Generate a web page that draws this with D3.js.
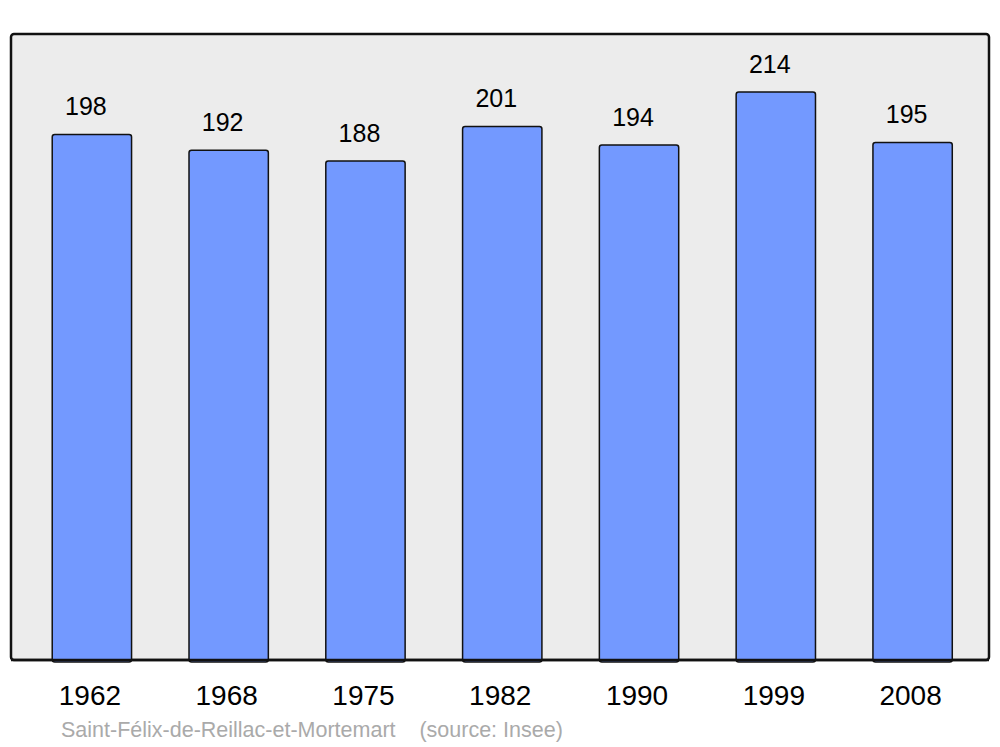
<!DOCTYPE html>
<html>
<head>
<meta charset="utf-8">
<script src="https://cdn.jsdelivr.net/npm/d3@7"></script>
<style>
  body { margin: 0; background: #fff; }
  svg { display: block; font-family: "Liberation Sans", Arial, sans-serif; }
</style>
</head>
<body>
<div class="chart"></div>
<script>
(function() {

	var width = 1000
	var height = 747

	var years = ["1962", "1968", "1975", "1982", "1990", "1999", "2008"]
	var population = [198, 192, 188, 201, 194, 214, 195]
	var townName = "Saint-Félix-de-Reillac-et-Mortemart"
	var sourceText = "(source: Insee)"

	var panel = { left: 11, top: 34, right: 989, bottom: 660 }

	var svg = d3.select(".chart")
				.append("svg")
				.attr("width", width)
				.attr("height", height)

	// grey plotting area
	svg.append("rect")
	   .attr("x", panel.left)
	   .attr("y", panel.top)
	   .attr("width", panel.right - panel.left)
	   .attr("height", panel.bottom - panel.top)
	   .attr("rx", 3)
	   .attr("fill", "#ececec")
	   .attr("stroke", "#111")
	   .attr("stroke-width", 2.5)

	var xScale = d3.scaleBand()
				   .domain(years)
				   .range([23.5, 981])
				   .paddingInner(0.42)
				   .paddingOuter(0.21)

	var yScale = d3.scaleLinear()
				   .domain([0, 214 * 1.102])
				   .range([panel.bottom, panel.top])

	var bars = svg.append("g")
				  .selectAll("g")
				  .data(population)
				  .enter()
				  .append("g")

	bars.append("rect")
		.attr("x", function(d, i) { return xScale(years[i]) })
		.attr("y", function(d) { return yScale(d) })
		.attr("width", xScale.bandwidth())
		.attr("height", function(d) { return panel.bottom - yScale(d) + 2 })
		.attr("rx", 2.5)
		.attr("fill", "#7399ff")
		.attr("stroke", "#111")
		.attr("stroke-width", 1.5)

	bars.append("text")
		.text(function(d) { return d })
		.attr("x", function(d, i) { return xScale(years[i]) + xScale.bandwidth() / 2 - 6 })
		.attr("y", function(d) { return yScale(d) - 19 })
		.attr("text-anchor", "middle")
		.attr("font-size", "25px")
		.attr("fill", "#000")

	// redraw the bottom edge of the panel over the bars
	svg.append("line")
	   .attr("x1", panel.left)
	   .attr("x2", panel.right)
	   .attr("y1", panel.bottom)
	   .attr("y2", panel.bottom)
	   .attr("stroke", "#111")
	   .attr("stroke-width", 2.5)

	var xAxis = d3.axisBottom(xScale).tickSize(0).tickPadding(0)

	svg.append("g")
	   .attr("class", "x-axis")
	   .attr("transform", "translate(-2," + (panel.bottom + 45) + ")")
	   .call(xAxis)
	   .call(function(g) { g.select(".domain").remove() })
	   .selectAll("text")
	   .attr("dy", 0)
	   .attr("font-size", "28px")
	   .attr("font-family", "Liberation Sans, Arial, sans-serif")
	   .attr("fill", "#000")

	svg.append("text")
	   .text(townName + "\u00a0\u00a0\u00a0\u00a0" + sourceText)
	   .attr("x", 61)
	   .attr("y", 737)
	   .attr("font-size", "21.5px")
	   .attr("fill", "#aaaaaa")

}())
</script>
</body>
</html>
